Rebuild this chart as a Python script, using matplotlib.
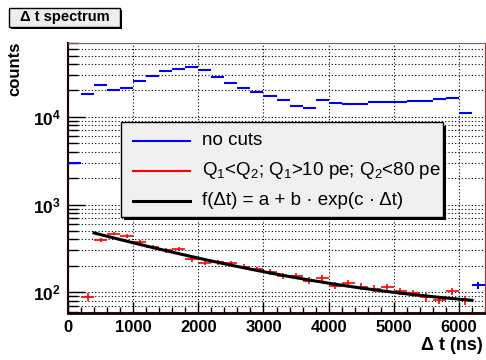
import numpy as np
import matplotlib
matplotlib.use('Agg')
import matplotlib.pyplot as plt
from matplotlib.patches import Rectangle
from matplotlib.lines import Line2D
from matplotlib.ticker import MultipleLocator, LogLocator, NullFormatter

plt.rcParams['font.family'] = ['Liberation Sans', 'DejaVu Sans']
plt.rcParams['mathtext.fontset'] = 'custom'
plt.rcParams['mathtext.rm'] = 'Liberation Sans'
plt.rcParams['mathtext.it'] = 'Liberation Sans:italic'
plt.rcParams['mathtext.bf'] = 'Liberation Sans:bold'

# 200 ns bins from 0 to 6400 ns
bin_width = 200
bin_lo = np.arange(0, 6400, bin_width)

no_cuts = [3010, 18200, 23000, 20200, 21400, 25800, 29200, 33500, 35300, 37200,
           34100, 28700, 24400, 21400, 19300, 17100, 15500, 13200, 12500, 15600,
           14400, 14000, 14100, 14700, 14600, 14700, 15000, 15200, 16000, 16200,
           11100, 120]
with_cuts = [0, 89, 391, 467, 438, 371, 328, 301, 309, 238,
             218, 221, 214, 196, 182, 170, 152, 153, 136, 144,
             119, 126, 116, 110, 114, 103, 97, 87.5, 82, 103,
             81, 0]

# fit f(dt) = a + b*exp(c*dt)
fit_a, fit_b, fit_c = 58.0, 508.0, -0.0005
fit_range = (400, 6200)

legend_labels = ['no cuts',
                 r'Q$_{1}$<Q$_{2}$; Q$_{1}$>10 pe; Q$_{2}$<80 pe',
                 'f(\u0394t) = a + b \u00b7 exp(c \u00b7 \u0394t)']

W, H = 486, 360
fig = plt.figure(figsize=(W / 100, H / 100), dpi=100)


def fx(px):
    return px / W


def fy(py):
    return 1 - py / H


ax = fig.add_axes([fx(68), fy(313.3), (485 - 68) / W, (313.3 - 42.7) / H])

centers = bin_lo + bin_width / 2
nc = np.array(no_cuts, dtype=float)
ax.errorbar(centers, nc, xerr=bin_width / 2, yerr=np.sqrt(nc), fmt='none',
            ecolor='#0000ff', elinewidth=1.5, capsize=0, zorder=3)

wc = np.array(with_cuts, dtype=float)
m = wc > 0
ax.errorbar(centers[m], wc[m], xerr=bin_width / 2, yerr=np.sqrt(wc[m]), fmt='none',
            ecolor='#ff0000', elinewidth=1.2, capsize=0, zorder=3)

t = np.linspace(fit_range[0], fit_range[1], 200)
ax.plot(t, fit_a + fit_b * np.exp(fit_c * t), color='black', lw=2.2, zorder=4)

ax.set_yscale('log')
ax.set_xlim(0, 6400)
ax.set_ylim(57.5, 70000)

ax.xaxis.set_major_locator(MultipleLocator(1000))
ax.xaxis.set_minor_locator(MultipleLocator(200))
ax.yaxis.set_minor_locator(LogLocator(base=10, subs=np.arange(2, 10), numticks=20))
ax.yaxis.set_minor_formatter(NullFormatter())
ax.set_yticks([1e2, 1e3, 1e4])
ax.set_yticklabels([r'$\mathbf{10^{2}}$', r'$\mathbf{10^{3}}$', r'$\mathbf{10^{4}}$'],
                   fontsize=12.5)
ax.tick_params(axis='x', which='major', direction='in', length=8, width=1,
               labelsize=12, pad=5, top=False)
ax.tick_params(axis='x', which='minor', direction='in', length=4, width=1, top=False)
ax.tick_params(axis='y', which='major', direction='in', length=12, width=1,
               pad=5, right=False)
ax.tick_params(axis='y', which='minor', direction='in', length=7, width=1, right=False)
plt.setp(ax.get_xticklabels(), fontweight='bold')

ax.grid(which='major', axis='both', color='black', linestyle=(0, (1, 2)), lw=0.8)
ax.grid(which='minor', axis='y', color='black', linestyle=(0, (1, 2)), lw=0.8)

ax.spines['left'].set_color('#1a0000')
ax.spines['left'].set_linewidth(1.5)
ax.spines['bottom'].set_color('#1a0000')
ax.spines['bottom'].set_linewidth(2)
ax.spines['top'].set_color('#806060')
ax.spines['right'].set_color('#b03030')

# legend box with shadow
fig.patches.append(Rectangle((fx(124), fy(219.5)), 322 / W, 94 / H,
                             transform=fig.transFigure, facecolor='black',
                             edgecolor='none', zorder=5))
fig.patches.append(Rectangle((fx(121), fy(216.5)), 322 / W, 94 / H,
                             transform=fig.transFigure, facecolor='#f0f0f0',
                             edgecolor='black', lw=1, zorder=6))
leg_colors = ['#0000ff', '#ff0000', 'black']
leg_widths = [1.5, 1.5, 2.2]
for i, (lab, col, lw) in enumerate(zip(legend_labels, leg_colors, leg_widths)):
    yy = 140.7 + i * 30
    fig.lines.append(Line2D([fx(133), fx(190)], [fy(yy), fy(yy)], color=col, lw=lw,
                            transform=fig.transFigure, zorder=7))
    fig.text(fx(202), fy(yy), lab, fontsize=13.5, ha='left', va='center', zorder=7)

# title box with shadow
fig.patches.append(Rectangle((fx(11), fy(29)), 111 / W, 19.3 / H,
                             transform=fig.transFigure, facecolor='black',
                             edgecolor='none', zorder=5))
fig.patches.append(Rectangle((fx(9), fy(27)), 111 / W, 19.3 / H,
                             transform=fig.transFigure, facecolor='#eeeeee',
                             edgecolor='black', lw=1, zorder=6))
fig.text(fx(64.5), fy(17.3), '\u0394 t spectrum', fontsize=10.5, fontweight='bold',
         ha='center', va='center', zorder=7)

fig.text(fx(15), fy(42), 'counts', fontsize=12, fontweight='bold', rotation=90,
         ha='center', va='top')
fig.text(fx(483), fy(345), '\u0394 t (ns)', fontsize=13, fontweight='bold',
         ha='right', va='center')

fig.savefig('out.png', dpi=100)
